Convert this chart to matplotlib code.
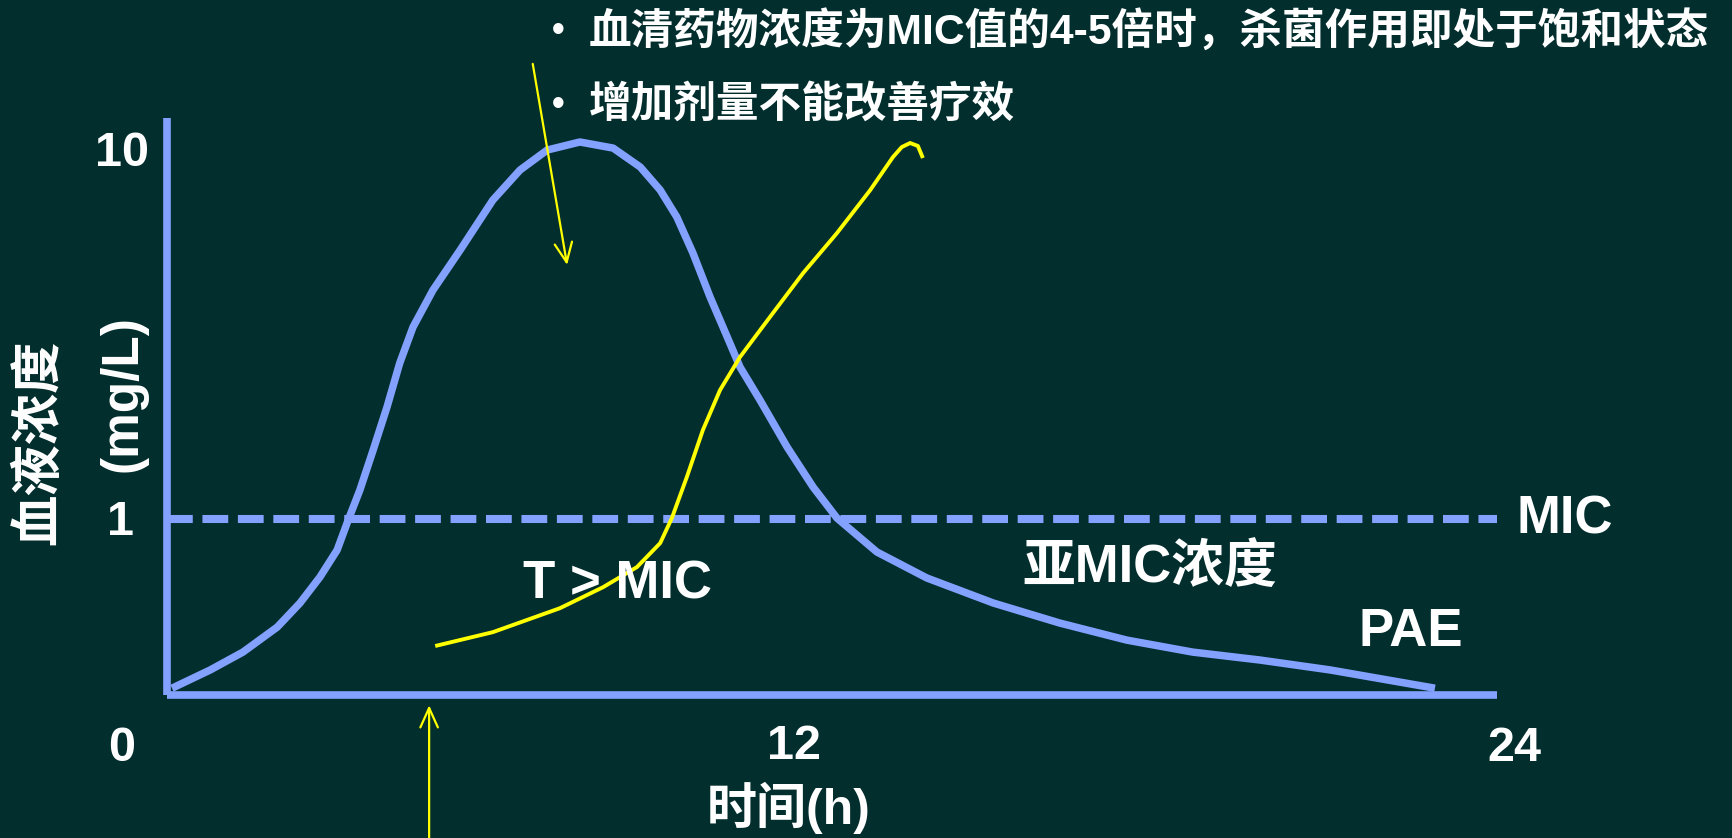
import matplotlib
matplotlib.use("Agg")
import matplotlib.pyplot as plt

# ---------------- data ----------------
conc_t = [0.09, 0.78, 1.37, 1.99, 2.40, 2.76, 3.07, 3.27, 3.48, 3.72, 3.97, 4.20, 4.44,
          4.80, 5.29, 5.88, 6.37, 6.86, 7.45, 8.05, 8.54, 8.90, 9.20, 9.49, 9.80,
          10.11, 10.34, 10.70, 11.19, 11.66, 12.09, 12.81, 13.71, 14.91, 16.11,
          17.32, 18.51, 19.72, 20.99, 22.88]
conc_c = [0.343, 0.385, 0.431, 0.505, 0.588, 0.693, 0.822, 0.994, 1.201, 1.547, 2.031,
          2.683, 3.370, 4.257, 5.483, 7.521, 9.094, 10.32, 10.86, 10.45, 9.269, 8.013,
          6.755, 5.382, 4.073, 3.162, 2.616, 2.123, 1.577, 1.224, 1.006, 0.812, 0.689,
          0.588, 0.518, 0.465, 0.431, 0.410, 0.385, 0.343]

kill_t = [4.84, 5.88, 7.09, 7.87, 8.48, 8.90, 9.11, 9.38, 9.67, 9.98, 10.34, 10.88,
          11.48, 12.09, 12.69, 13.10, 13.26, 13.41, 13.55, 13.64]
kill_c = [0.448, 0.489, 0.569, 0.650, 0.738, 0.859, 1.006, 1.304, 1.756, 2.262, 2.787,
          3.589, 4.742, 6.105, 8.013, 9.874, 10.52, 10.79, 10.59, 9.813]

mic_value = 1.0
x_range = (0, 24)
y_range = (0.3286, 12.64)

arrow1_from = (6.60, 17.8)
arrow1_to = (7.22, 4.99)
arrow2_from = (4.73, 0.133)
arrow2_to = (4.73, 0.308)

ytick_labels = ["10", "1"]
xtick_labels = ["0", "12", "24"]
bullets = ["血清药物浓度为MIC值的4-5倍时，杀菌作用即处于饱和状态", "增加剂量不能改善疗效"]
ylabel_lines = ["血液浓度", "(mg/L)"]
xlabel = "时间(h)"

# ---------------- style ----------------
BG = "#022E2D"
BLUE = "#83A1FF"
YELLOW = "#FFFF00"
FAM = ["Liberation Sans", "Noto Sans CJK SC", "DejaVu Sans"]

W, H = 1733, 838
fig = plt.figure(figsize=(W / 100, H / 100), dpi=100, facecolor=BG)

def fx(px):
    return px / W

def fy(py):
    return 1 - py / H

ax = fig.add_axes([fx(167), fy(695), fx(1497) - fx(167), fy(118) - fy(695)])
ax.set_facecolor(BG)
ax.set_yscale("log")
ax.set_xlim(*x_range)
ax.set_ylim(*y_range)
ax.set_xticks([])
ax.set_yticks([])
ax.minorticks_off()
for s in ["top", "right"]:
    ax.spines[s].set_visible(False)
for s in ["left", "bottom"]:
    ax.spines[s].set_color(BLUE)
    ax.spines[s].set_linewidth(5.5)
    ax.spines[s].set_capstyle("butt")

# MIC dashed line
ax.axhline(mic_value, color=BLUE, lw=5.8, dashes=(3.2, 1.2), zorder=2)

# curves
ax.plot(conc_t, conc_c, color=BLUE, lw=5.4, solid_capstyle="butt",
        solid_joinstyle="round", clip_on=False, zorder=3)
ax.plot(kill_t, kill_c, color=YELLOW, lw=2.8, solid_capstyle="butt",
        solid_joinstyle="round", clip_on=False, zorder=4)

# arrows
for a_from, a_to in [(arrow1_from, arrow1_to), (arrow2_from, arrow2_to)]:
    ax.annotate("", xy=a_to, xytext=a_from, xycoords="data", textcoords="data",
                annotation_clip=False,
                arrowprops=dict(arrowstyle="->,head_length=1.0,head_width=0.45",
                                color=YELLOW, lw=1.6, mutation_scale=14,
                                shrinkA=0, shrinkB=0))

# texts
tk = dict(color="white", fontsize=35, fontweight="bold", family=FAM, ha="center", va="center")
fig.text(fx(122), fy(154), ytick_labels[0], **tk)
fig.text(fx(121), fy(522), ytick_labels[1], **tk)
fig.text(fx(122), fy(748), xtick_labels[0], **tk)
fig.text(fx(794), fy(746), xtick_labels[1], **tk)
fig.text(fx(1514), fy(748), xtick_labels[2], **tk)

fig.text(fx(789), fy(808), xlabel, color="white", fontsize=36, fontweight="bold",
         family=FAM, ha="center", va="center")
fig.text(fx(40), fy(442), ylabel_lines[0], color="white", fontsize=37, fontweight="bold",
         family=FAM, ha="center", va="center", rotation=90)
fig.text(fx(123), fy(394), ylabel_lines[1], color="white", fontsize=37, fontweight="bold",
         family=FAM, ha="center", va="center", rotation=90)

lab = dict(color="white", fontsize=38, fontweight="bold", family=FAM, ha="center", va="center")
fig.text(fx(1565), fy(520), "MIC", **lab)
fig.text(fx(618), fy(584), "T > MIC", **lab)
fig.text(fx(1150), fy(568), "亚MIC浓度", **lab)
fig.text(fx(1411), fy(632), "PAE", **lab)

for i, (line, ypx) in enumerate(zip(bullets, [31, 105])):
    fig.text(fx(558), fy(ypx), "•", color="white", fontsize=26, fontweight="bold",
             family=FAM, ha="center", va="center")
    fig.text(fx(589), fy(ypx), line, color="white", fontsize=30.7, fontweight="bold",
             family=FAM, ha="left", va="center")

fig.savefig("out.png", dpi=100, facecolor=BG)
